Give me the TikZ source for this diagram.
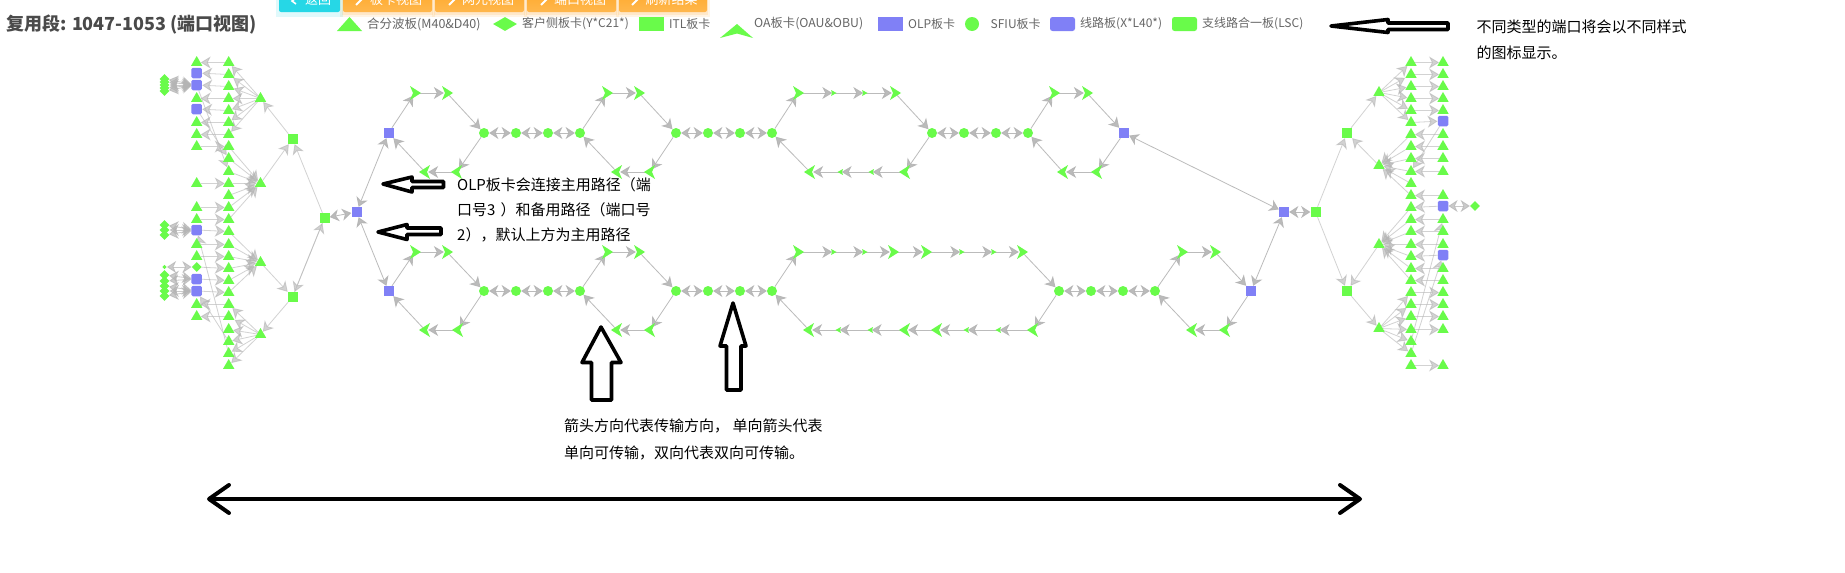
\documentclass[tikz,border=0pt]{standalone}
\usepackage{fontspec}
\setmainfont{Noto Sans CJK SC}
\usetikzlibrary{arrows.meta,shapes.geometric}
\pgfdeclarelayer{paper}
\pgfdeclarelayer{bg}
\pgfsetlayers{paper,bg,main}
\definecolor{ngreen}{HTML}{69FB4A}
\definecolor{npurple}{HTML}{8080F6}
\definecolor{egray}{HTML}{B4B4B4}
\definecolor{ltext}{HTML}{666666}
\definecolor{ttext}{HTML}{4A4A4A}
\definecolor{btno}{HTML}{FFA726}
\definecolor{btnol}{HTML}{FFB74D}
\definecolor{btnc}{HTML}{26D7E6}
\tikzset{
  tri/.style={regular polygon,regular polygon sides=3,minimum size=13pt,inner sep=0pt,fill=ngreen,yshift=-1.5pt},
  dia/.style={diamond,minimum size=10pt,inner sep=0pt,fill=ngreen},
  dias/.style={diamond,minimum size=4.5pt,inner sep=0pt,fill=ngreen},
  sqr/.style={rectangle,minimum size=10pt,inner sep=0pt,fill=#1},
  rsq/.style={rectangle,rounded corners=1.5pt,minimum size=10.5pt,inner sep=0pt,fill=npurple},
  sf/.style={circle,minimum size=10pt,inner sep=0pt,fill=ngreen},
  oanode/.style={circle,minimum size=6pt,inner sep=0pt},
  smnode/.style={circle,minimum size=1pt,inner sep=0pt},
  lnk/.style={line width=.8pt,draw=egray,opacity=.9,-{Stealth[length=10pt,width=12pt,inset=3pt]}},
  lnkb/.style={line width=.8pt,draw=egray,opacity=.9,{Stealth[length=9.2pt,width=12pt,inset=2.8pt]}-{Stealth[length=9.2pt,width=12pt,inset=2.8pt]}},
  lnkl/.style={lnk,opacity=.6},
  lnkbl/.style={lnkb,opacity=.7},
  legtxt/.style={anchor=west,inner sep=0pt,text=ltext,font=\fontsize{12}{14}\selectfont},
  annot/.style={anchor=west,inner sep=0pt,text=black,font=\fontsize{15}{18}\selectfont},
  blk/.style={draw=black,line width=3.6pt,fill=white,line join=round},
  btnbox/.style={rectangle,rounded corners=2pt,minimum height=24pt,inner sep=0pt,text=white,font=\fontsize{13}{15}\selectfont},
}
\newcommand\oan[4]{\node[oanode] (#1) at (#2,#3) {};\fill[ngreen,shift={(#2,#3)},rotate=#4] (6,0)--(-5,7)--(-2,0)--(-5,-7)--cycle;}
\newcommand\smn[4]{\node[smnode] (#1) at (#2,#3) {};\fill[ngreen,shift={(#2,#3)},rotate=#4] (3.5,0)--(-2,3)--(-1,0)--(-2,-3)--cycle;}
\begin{document}
\begin{tikzpicture}[x=1pt,y=-1pt]
\useasboundingbox (0,0) rectangle (1845,573);
\begin{pgfonlayer}{paper}
\fill[white] (0,0) rectangle (1845,573);
\end{pgfonlayer}

% buttons
\foreach \xa/\xb in {343/432,435/524,527/616,619/707}{
  \fill[btnol,opacity=.14] (\xa-3,0) rectangle (\xb+3,17);
  \fill[btnol,opacity=.18] (\xa-1,0) rectangle (\xb+1,14.5);
}
\fill[btnc,opacity=.14] (276,0) rectangle (343,17);
\node[btnbox,fill=btnc,minimum width=61pt] (b1) at (309.5,0) {\hspace*{17pt}返回};
\node[btnbox,top color=btno,bottom color=btnol,minimum width=89pt] (b2) at (387.5,0) {\hspace*{17pt}板卡视图};
\node[btnbox,top color=btno,bottom color=btnol,minimum width=89pt] (b3) at (479.5,0) {\hspace*{17pt}网元视图};
\node[btnbox,top color=btno,bottom color=btnol,minimum width=89pt] (b4) at (571.5,0) {\hspace*{17pt}端口视图};
\node[btnbox,top color=btno,bottom color=btnol,minimum width=88pt] (b5) at (663,0) {\hspace*{17pt}刷新结果};
\draw[white,line width=1.6pt] (296,-2)--(292,1)--(296,4);
\foreach \x in {356,449,541,632}{\draw[white,line width=2pt] (\x,5)--(\x+7,-2);}

% title
\node[anchor=west,inner sep=0pt,text=ttext,font=\fontsize{18}{22}\selectfont\bfseries] (title) at (6,25) {复用段: 1047-1053 (端口视图)};

% legend
\fill[ngreen] (337,31)--(349.5,17)--(362,31)--cycle;
\node[legtxt,font=\fontsize{12.5}{14}\selectfont] (t1) at (367,24) {合分波板(M40\&D40)};
\node[diamond,aspect=1.75,minimum width=24pt,minimum height=14pt,inner sep=0pt,fill=ngreen] (d1) at (505,24) {};
\node[legtxt] (t2) at (522,24) {客户侧板卡(Y*C21*)};
\node[rectangle,minimum width=25pt,minimum height=14pt,inner sep=0pt,fill=ngreen] (d2) at (651.5,24) {};
\node[legtxt] (t3) at (669,24) {ITL板卡};
\fill[ngreen] (737,24)--(753,38)--(737,33.5)--(720,38)--cycle;
\node[legtxt,font=\fontsize{12.3}{14}\selectfont] (t4) at (754,24) {OA板卡(OAU\&OBU)};
\node[rectangle,minimum width=25pt,minimum height=14pt,inner sep=0pt,fill=npurple] (d3) at (890.5,24) {};
\node[legtxt] (t5) at (908,24) {OLP板卡};
\node[circle,minimum size=14pt,inner sep=0pt,fill=ngreen] (d4) at (972,24) {};
\node[legtxt] (t6) at (990.5,24) {SFIU板卡};
\node[rectangle,rounded corners=2.5pt,minimum width=25pt,minimum height=14pt,inner sep=0pt,fill=npurple] (d5) at (1062.5,24) {};
\node[legtxt] (t7) at (1080,24) {线路板(X*L40*)};
\node[rectangle,rounded corners=2.5pt,minimum width=25pt,minimum height=14pt,inner sep=0pt,fill=ngreen] (d6) at (1184.5,24) {};
\node[legtxt] (t8) at (1202,24) {支线路合一板(LSC)};

% ---------- left block nodes
\foreach \y in {61,73,85,97,109,121,133,145,157,170,182,194,206,218,230,243,255,267,279,291,303,315,328,340,352,364}{
  \node[tri] (Lb\y) at (228.7,\y) {};
  \node[tri] (Rb\y) at (1411,\y) {};
}
\foreach \y in {61,97,121,133,145,182,206,218,243,255,303,315}{\node[tri] (La\y) at (196.7,\y) {};}
\foreach \y in {73,85,109,230,279,291}{\node[rsq] (La\y) at (196.7,\y) {};}
\node[dia] (La267) at (196.7,267) {};
\node[dias] (Dz) at (164.5,267) {};
\foreach \y in {79,82,85,88,91}{\node[dia] (Da\y) at (164.5,\y) {};}
\foreach \y in {225,230,235}{\node[dia] (Db\y) at (164.5,\y) {};}
\foreach \y in {275,281}{\node[dia] (Dc\y) at (164.5,\y) {};}
\foreach \y in {286,291,296}{\node[dia] (Dd\y) at (164.5,\y) {};}
\node[tri] (LC1) at (260.5,97) {};
\node[tri] (LC2) at (260.5,182) {};
\node[tri] (LC3) at (260.5,261) {};
\node[tri] (LC4) at (260.5,333) {};
\node[sqr=ngreen] (i1) at (292.5,139) {};
\node[sqr=ngreen] (i2) at (292.5,297) {};
\node[sqr=ngreen] (lsL) at (324.5,218) {};
\node[sqr=npurple] (oc) at (356.5,212) {};
\node[sqr=npurple] (ou) at (388.5,133) {};
\node[sqr=npurple] (ol) at (388.5,291) {};

% ---------- right block nodes
\foreach \y in {61,73,85,97,109,133,145,157,170,194,218,230,243,267,279,291,303,315,328,364}{\node[tri] (Ra\y) at (1443,\y) {};}
\foreach \y in {121,206,255}{\node[rsq] (Ra\y) at (1443,\y) {};}
\node[dia] (Dr) at (1475,206) {};
\node[tri] (RC1) at (1379,91) {};
\node[tri] (RC2) at (1379,164) {};
\node[tri] (RC3) at (1379,243) {};
\node[tri] (RC4) at (1379,327) {};
\node[sqr=ngreen] (i3) at (1347,133) {};
\node[sqr=ngreen] (i4) at (1347,291) {};
\node[sqr=ngreen] (lsR) at (1315.5,212) {};
\node[sqr=npurple] (orc) at (1284,212) {};
\node[sqr=npurple] (oru) at (1124,133) {};
\node[sqr=npurple] (orl) at (1251,291) {};

% ---------- SFIU
\foreach \n/\x in {su1/484,su2/516,su3/548,su4/580,su5/676,su6/708,su7/740,su8/772,su9/932,su10/964,su11/996,su12/1028}{\node[sf] (\n) at (\x,133) {};}
\foreach \n/\x in {sl1/484,sl2/516,sl3/548,sl4/580,sl5/676,sl6/708,sl7/740,sl8/772,sl9/1059,sl10/1091,sl11/1123,sl12/1155}{\node[sf] (\n) at (\x,291) {};}

% ---------- OA
\foreach \n/\x/\y in {ua1/415/93,ua2/447/93,ub1/607/93,ub2/639/93,uc1/798/93,uc4/895/93,ud1/1054/93,ud2/1087/93,la1/415/252,la2/447/252,lb1/607/252,lb2/639/252,lc1/798/252,lc4/893/252,lc5/926/252,lc8/1022/252,ld1/1182/252,ld2/1215/252}{\oan{\n}{\x}{\y}{0}}
\foreach \n/\x/\y in {ue1/457/172,ue2/425/172,uf1/650/172,uf2/617/172,ug1/905/172,ug4/810/172,uh1/1097/172,uh2/1063/172,le1/458/330,le2/425/330,lf1/650/330,lf2/617/330,lg1/1033/330,lg4/937/330,lg5/905/330,lg8/809/330,lh1/1225/330,lh2/1192/330}{\oan{\n}{\x}{\y}{180}}
\foreach \n/\x/\y in {uc2/833/93,uc3/864/93,lc2/833/252,lc3/864/252,lc6/961/252,lc7/993/252}{\smn{\n}{\x}{\y}{0}}
\foreach \n/\x/\y in {ug2/872/172,ug3/841/172,lg2/999/330,lg3/967/330,lg6/871/330,lg7/839/330}{\smn{\n}{\x}{\y}{180}}

% ---------- edges
\begin{pgfonlayer}{bg}
\foreach \a/\b in {ou/ua1,ua1/ua2,ua2/su1,su4/ub1,ub1/ub2,ub2/su5,su8/uc1,uc1/uc2,uc2/uc3,uc3/uc4,uc4/su9,su12/ud1,ud1/ud2,ud2/oru,
  oru/uh1,uh1/uh2,uh2/su12,su9/ug1,ug1/ug2,ug2/ug3,ug3/ug4,ug4/su8,su5/uf1,uf1/uf2,uf2/su4,su1/ue1,ue1/ue2,ue2/ou,
  ol/la1,la1/la2,la2/sl1,sl4/lb1,lb1/lb2,lb2/sl5,sl8/lc1,lc1/lc2,lc2/lc3,lc3/lc4,lc4/lc5,lc5/lc6,lc6/lc7,lc7/lc8,lc8/sl9,sl12/ld1,ld1/ld2,ld2/orl,
  orl/lh1,lh1/lh2,lh2/sl12,sl9/lg1,lg1/lg2,lg2/lg3,lg3/lg4,lg4/lg5,lg5/lg6,lg6/lg7,lg7/lg8,lg8/sl8,sl5/lf1,lf1/lf2,lf2/sl4,sl1/le1,le1/le2,le2/ol}{
  \draw[lnk] (\a)--(\b);
}
\foreach \a/\b in {su1/su2,su2/su3,su3/su4,su5/su6,su6/su7,su7/su8,su9/su10,su10/su11,su11/su12,sl1/sl2,sl2/sl3,sl3/sl4,sl5/sl6,sl6/sl7,sl7/sl8,sl9/sl10,sl10/sl11,sl11/sl12,
  oc/ou,oc/ol,oc/lsL,orc/oru,orc/orl,orc/lsR}{
  \draw[lnkb] (\a)--(\b);
}
\foreach \a/\b in {lsL/i1,i2/lsL,lsL/i2,i1/LC1,LC2/i1,LC3/i2,i2/LC4,
  La145/Lb145,La182/Lb182,La206/Lb206,La218/Lb218,La230/Lb230,La243/Lb243,La255/Lb255,La267/Lb267,La279/Lb279,La291/Lb291,
  La85/Lb170,La109/Lb157,Lb352/La230,Lb340/La291,Lb303/La303,Lb315/La315}{
  \draw[lnkl] (\a)--(\b);
}
\foreach \y in {61,73,85,97,109,121,133}{
  \draw[lnkl] (LC1)--(Lb\y);
  \draw[lnkl] (Lb\y)--(La\y);
}
\foreach \y in {145,157,170,182,194,206,218}{\draw[lnkl] (Lb\y)--(LC2);}
\foreach \y in {230,243,255,267,279,291}{\draw[lnkl] (Lb\y)--(LC3);}
\foreach \y in {303,315,328,340,352,364}{\draw[lnkl] (LC4)--(Lb\y);}
\foreach \d/\t in {Da79/La85,Da82/La85,Da85/La85,Da88/La85,Da91/La85,Db225/La230,Db230/La230,Db235/La230,Dz/La267,Dc275/La279,Dc281/La279,Dd286/La291,Dd291/La291,Dd296/La291}{
  \draw[lnkbl] (\d)--(\t);
}
\foreach \a/\b in {lsR/i3,lsR/i4,i3/RC1,RC2/i3,RC3/i4,i4/RC4,Ra121/Rb170,Ra194/Rb194,Ra206/Rb206,Ra218/Rb218,Ra230/Rb230,Ra243/Rb243,Ra255/Rb255,Ra267/Rb267,Ra279/Rb279,Rb340/Ra218,Rb352/Ra255,Rb364/Ra364}{
  \draw[lnkl] (\a)--(\b);
}
\foreach \y in {61,73,85,97,109,121}{
  \draw[lnkl] (RC1)--(Rb\y);
  \draw[lnkl] (Rb\y)--(Ra\y);
}
\foreach \y in {133,145,157,170}{\draw[lnkl] (Ra\y)--(Rb\y);}
\foreach \y in {133,145,157,170,182,194}{\draw[lnkl] (Rb\y)--(RC2);}
\foreach \y in {206,218,230,243,255,267,279}{\draw[lnkl] (Rb\y)--(RC3);}
\foreach \y in {291,303,315,328,340,352}{\draw[lnkl] (RC4)--(Rb\y);}
\foreach \y in {291,303,315,328}{\draw[lnkl] (Rb\y)--(Ra\y);}
\draw[lnkbl] (Dr)--(Ra206);
\end{pgfonlayer}

% ---------- hand-drawn arrows
\draw[blk] (1331,26)--(1388,19.5)--(1388,23)--(1448,23)--(1448,29.5)--(1388,29.5)--(1388,32.5)--cycle;
\draw[blk] (383,184)--(412,177)--(412,181.5)--(443.5,181.5)--(443.5,187.5)--(412,187.5)--(412,192)--cycle;
\draw[blk] (378,232)--(407,224.5)--(407,228)--(441,228)--(441,234.5)--(407,234.5)--(407,239.5)--cycle;
\draw[blk] (601,327)--(621,362.5)--(611.5,362.5)--(611.5,400)--(591.5,400)--(591.5,362.5)--(582,362.5)--cycle;
\draw[blk] (733,303)--(746,346)--(741,346)--(741,390)--(726.5,390)--(726.5,346)--(720,346)--cycle;
\coordinate (dl) at (207,499);
\coordinate (dr) at (1362,499);
\draw[black,line width=4pt,{Straight Barb[length=20pt,width=28pt,round]}-{Straight Barb[length=20pt,width=28pt,round]}] (dl)--(dr);

% ---------- annotations
\node[annot] (a1) at (457,185) {OLP板卡会连接主用路径（端};
\node[annot] (a2) at (457,210) {口号3\kern5pt）和备用路径（端口号};
\node[annot] (a3) at (457,235) {2），默认上方为主用路径};
\node[annot] (a4) at (564,426) {箭头方向代表传输方向， 单向箭头代表};
\node[annot] (a5) at (564,453) {单向可传输，双向代表双向可传输。};
\node[annot] (a6) at (1476.5,27) {不同类型的端口将会以不同样式};
\node[annot] (a7) at (1476.5,53) {的图标显示。};
\end{tikzpicture}
\end{document}
